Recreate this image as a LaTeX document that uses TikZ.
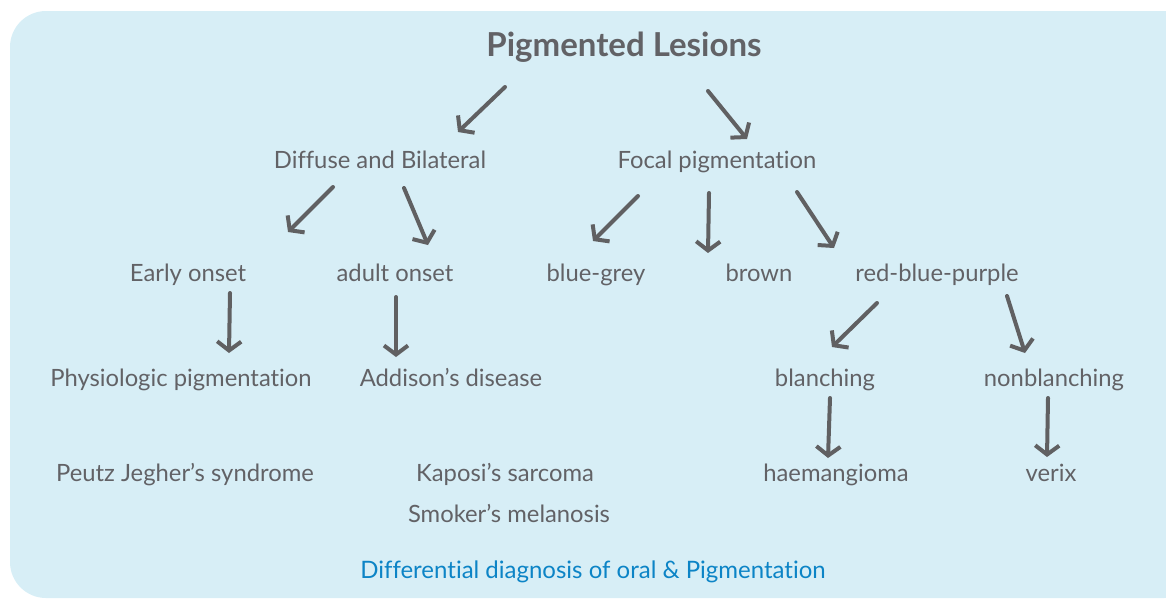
\documentclass[tikz,border=0pt]{standalone}
\usepackage{fontspec}
\setmainfont[Ligatures={NoCommon,NoRequired,NoContextual,NoRare}]{Lato}
\usetikzlibrary{arrows.meta}
\definecolor{bgblue}{RGB}{215,238,246}
\definecolor{txtgrey}{RGB}{98,98,102}
\definecolor{arrgrey}{RGB}{96,96,98}
\definecolor{capblue}{RGB}{12,132,198}
\tikzset{
  lbl/.style={text=txtgrey, font=\fontsize{23.8}{28}\selectfont, inner sep=0pt, anchor=base},
  ttl/.style={text=txtgrey, font=\fontsize{33}{38}\selectfont\bfseries, inner sep=0pt, anchor=base},
  captxt/.style={text=capblue, font=\fontsize{24}{28}\selectfont, inner sep=0pt, anchor=base},
  arr/.style={draw=arrgrey, line width=4pt, line cap=round, line join=round,
    -{Straight Barb[length=9pt,width=24pt,line width=4pt]}}
}
\begin{document}
\begin{tikzpicture}[x=1pt,y=-1pt]
\useasboundingbox (0,0) rectangle (1166,598);
\begin{scope}
\clip (0,0) rectangle (1166,598);
\fill[bgblue, rounded corners=36pt] (10,11) rectangle (1200,598);
\end{scope}
% nodes (base anchors)
\node[ttl] (root) at (624,56) {Pigmented Lesions};
\node[lbl] (diff) at (380,168) {Diffuse and Bilateral};
\node[lbl] (focal) at (717,168) {Focal pigmentation};
\node[lbl] (early) at (188,281) {Early onset};
\node[lbl] (adult) at (395,281) {adult onset};
\node[lbl] (bg) at (596,281) {blue-grey};
\node[lbl] (brown) at (759,281) {brown};
\node[lbl] (rbp) at (937,281) {red-blue-purple};
\node[lbl] (phys) at (181,386) {Physiologic pigmentation};
\node[lbl] (addison) at (451,386) {Addison’s disease};
\node[lbl] (blanch) at (825,386) {blanching};
\node[lbl] (nonbl) at (1054,386) {nonblanching};
\node[lbl] (peutz) at (185,481) {Peutz Jegher’s syndrome};
\node[lbl] (kaposi) at (505,481) {Kaposi’s sarcoma};
\node[lbl] (smoker) at (509,522) {Smoker’s melanosis};
\node[lbl] (haem) at (836,481) {haemangioma};
\node[lbl] (verix) at (1051,481) {verix};
\node[captxt] (caption) at (593,578) {Differential diagnosis of oral \& Pigmentation};
% arrow end points
\coordinate (a1s) at (505,87);  \coordinate (a1e) at (458,132);
\coordinate (a2s) at (708,91);  \coordinate (a2e) at (747,139);
\coordinate (a3s) at (333,187); \coordinate (a3e) at (288,232);
\coordinate (a4s) at (404,188); \coordinate (a4e) at (428,245);
\coordinate (a5s) at (638,196); \coordinate (a5e) at (593,241);
\coordinate (a6s) at (709,193); \coordinate (a6e) at (708,253);
\coordinate (a7s) at (797,192); \coordinate (a7e) at (834,248);
\coordinate (a8s) at (230,293); \coordinate (a8e) at (229,353);
\coordinate (a9s) at (396,297); \coordinate (a9e) at (396,357);
\coordinate (a10s) at (877,303); \coordinate (a10e) at (832,347);
\coordinate (a11s) at (1007,296); \coordinate (a11e) at (1025,353);
\coordinate (a12s) at (830,398); \coordinate (a12e) at (828,458);
\coordinate (a13s) at (1048,398); \coordinate (a13e) at (1047,457);
\foreach \i in {1,...,13} {\draw[arr] (a\i s) -- (a\i e);}
\end{tikzpicture}
\end{document}
